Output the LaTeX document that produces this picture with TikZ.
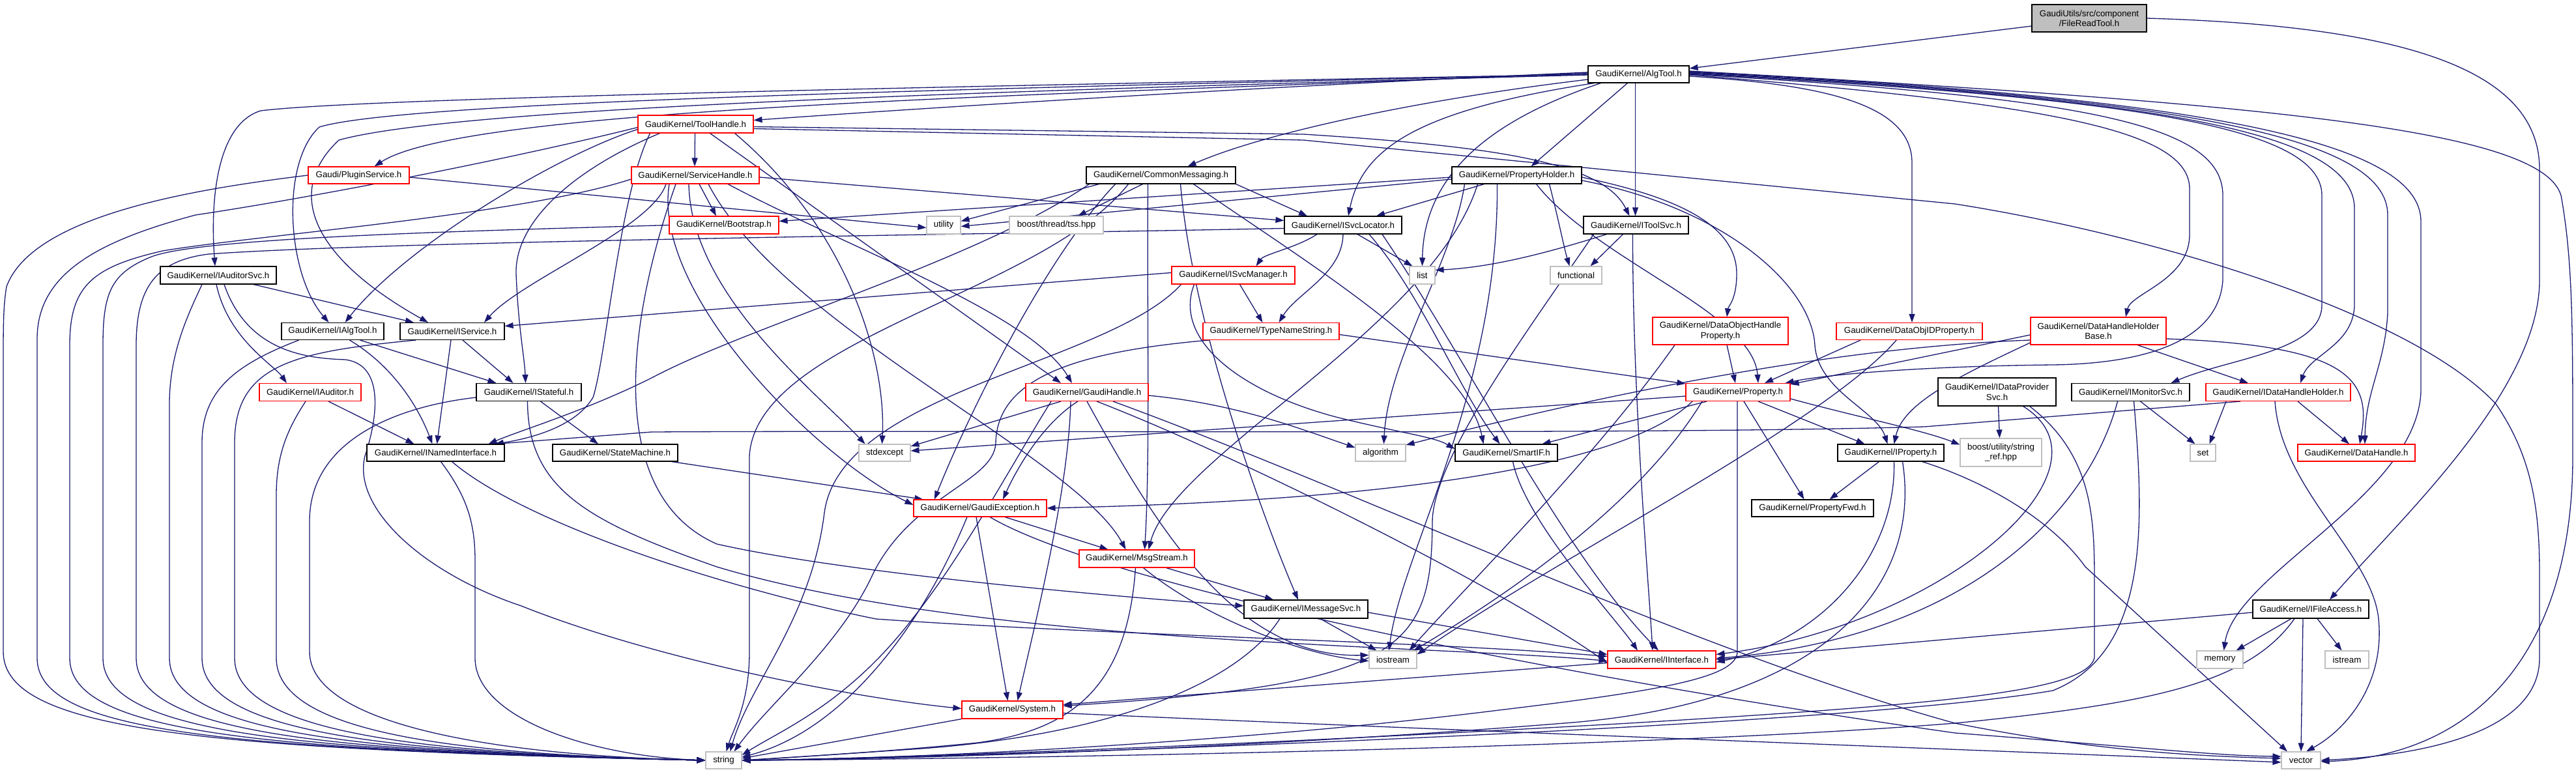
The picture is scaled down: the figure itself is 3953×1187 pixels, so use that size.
\documentclass[tikz,border=0pt]{standalone}
\usepackage{fontspec}
\setmainfont{Liberation Sans}
\usetikzlibrary{arrows.meta}
\definecolor{mblue}{HTML}{191970}
\definecolor{gbord}{HTML}{BFBFBF}
\newcommand\nd[6]{\node[#1,minimum width=#4pt,minimum height=#5pt] (#2) at (#3) {#6};}
\pgfdeclarelayer{bg}
\pgfsetlayers{bg,main}
\begin{document}
\begin{tikzpicture}[x=1pt,y=-1pt,
  nb/.style={draw=black,line width=1.1pt,fill=white,inner sep=0pt,align=center,font=\fontsize{13.3}{15.5}\selectfont},
  nr/.style={nb,draw=red},
  ng/.style={nb,draw=gbord},
  ns/.style={nb,fill=gbord},
  e/.style={draw=mblue,line width=1.3pt,-{Triangle[length=13pt,width=9pt]}}]
\useasboundingbox (0,0) rectangle (3953,1187);
% ---------------- nodes
\nd{ns}{frt}{3206,28}{176}{42}{GaudiUtils/src/component\\/FileReadTool.h}
\nd{nb}{algtool}{2514.5,114}{155}{26}{GaudiKernel/AlgTool.h}
\nd{nr}{toolhandle}{1067.5,190.5}{177}{27}{GaudiKernel/ToolHandle.h}
\nd{nr}{plugin}{550.5,269}{155}{26}{Gaudi/PluginService.h}
\nd{nr}{svchandle}{1067,269}{196}{26}{GaudiKernel/ServiceHandle.h}
\nd{nb}{commsg}{1781.5,269}{229}{26}{GaudiKernel/CommonMessaging.h}
\nd{nb}{propholder}{2327.5,269}{199}{26}{GaudiKernel/PropertyHolder.h}
\nd{nr}{bootstrap}{1111,345.5}{168}{27}{GaudiKernel/Bootstrap.h}
\nd{ng}{utility}{1448,345.5}{52}{27}{utility}
\nd{ng}{tss}{1621,345.5}{144}{27}{boost/thread/tss.hpp}
\nd{nb}{isvcloc}{2061,345.5}{180}{27}{GaudiKernel/ISvcLocator.h}
\nd{nb}{itoolsvc}{2510.5,345.5}{161}{27}{GaudiKernel/IToolSvc.h}
\nd{nb}{iauditorsvc}{335,422.5}{178}{27}{GaudiKernel/IAuditorSvc.h}
\nd{nr}{isvcmgr}{1892.5,422.5}{189}{27}{GaudiKernel/ISvcManager.h}
\nd{ng}{list}{2182.5,422.5}{39}{27}{list}
\nd{ng}{functional}{2418.5,422.5}{79}{27}{functional}
\nd{nb}{ialgtool}{510.5,508.5}{157}{26}{GaudiKernel/IAlgTool.h}
\nd{nb}{iservice}{694,508.5}{160}{26}{GaudiKernel/IService.h}
\nd{nr}{typename}{1950.5,508.5}{209}{26}{GaudiKernel/TypeNameString.h}
\nd{nr}{dohp}{2640,508}{208}{42}{GaudiKernel/DataObjectHandle\\Property.h}
\nd{nr}{doidp}{2930,508.5}{224}{26}{GaudiKernel/DataObjIDProperty.h}
\nd{nr}{dhhb}{3220,508}{208}{42}{GaudiKernel/DataHandleHolder\\Base.h}
\nd{nr}{iauditor}{476,602}{156}{27}{GaudiKernel/IAuditor.h}
\nd{nb}{istateful}{811.5,602}{161}{27}{GaudiKernel/IStateful.h}
\nd{nr}{gaudihandle}{1668,602}{188}{27}{GaudiKernel/GaudiHandle.h}
\nd{nr}{property}{2667,602}{160}{27}{GaudiKernel/Property.h}
\nd{nb}{idps}{3064.5,601.5}{181}{43}{GaudiKernel/IDataProvider\\Svc.h}
\nd{nb}{imonitor}{3269.5,602}{181}{27}{GaudiKernel/IMonitorSvc.h}
\nd{nr}{idhh}{3496,602}{222}{27}{GaudiKernel/IDataHandleHolder.h}
\nd{nb}{inamed}{668.5,695}{211}{26}{GaudiKernel/INamedInterface.h}
\nd{nb}{statemachine}{944,695}{192}{26}{GaudiKernel/StateMachine.h}
\nd{ng}{stdexcept}{1357.5,695}{79}{26}{stdexcept}
\nd{ng}{algorithm}{2118.5,695}{77}{26}{algorithm}
\nd{nb}{smartif}{2311.5,695}{157}{26}{GaudiKernel/SmartIF.h}
\nd{nb}{iproperty}{2901.5,695}{163}{26}{GaudiKernel/IProperty.h}
\nd{ng}{stringref}{3070.5,694.5}{125}{43}{boost/utility/string\\\_ref.hpp}
\nd{ng}{set}{3380.5,695}{39}{26}{set}
\nd{nr}{datahandle}{3616,695}{180}{26}{GaudiKernel/DataHandle.h}
\nd{nr}{gexc}{1504,780}{204}{26}{GaudiKernel/GaudiException.h}
\nd{nb}{propfwd}{2781.5,780}{187}{26}{GaudiKernel/PropertyFwd.h}
\nd{nr}{msgstream}{1744.5,857.5}{177}{27}{GaudiKernel/MsgStream.h}
\nd{nb}{imsgsvc}{2004,935}{190}{28}{GaudiKernel/IMessageSvc.h}
\nd{nb}{ifileaccess}{3546,935}{178}{28}{GaudiKernel/IFileAccess.h}
\nd{ng}{iostream}{2137.5,1012.5}{73}{27}{iostream}
\nd{nr}{iinterface}{2550,1012.5}{166}{27}{GaudiKernel/IInterface.h}
\nd{ng}{memory}{3406.5,1012.5}{71}{27}{memory}
\nd{ng}{istream}{3601.5,1012.5}{67}{27}{istream}
\nd{nr}{system}{1553.5,1089.5}{155}{27}{GaudiKernel/System.h}
\nd{ng}{string}{1110.5,1167}{55}{26}{string}
\nd{ng}{vector}{3531,1167}{60}{26}{vector}
% ---------------- edges
\begin{pgfonlayer}{bg}
\fill[white] (0,0) rectangle (3953,1187);
% FileReadTool
\draw[e] ([yshift=-12pt]frt.west) -- ([yshift=9pt]algtool.east);
\draw[e] (frt.east) .. controls (3700,40) and (3897,110) .. (3897,260) -- (3897,430) .. controls (3897,600) and (3680,800) .. ([xshift=29pt]ifileaccess.north);
% AlgTool
\draw[e] ([yshift=3pt]algtool.west) .. controls (2000,130) and (1500,160) .. ([yshift=6pt]toolhandle.east);
\draw[e] ([yshift=2pt]algtool.west) .. controls (1700,145) and (720,160) .. ([xshift=24pt]plugin.north);
\draw[e] (algtool.west) .. controls (1500,132) and (560,150) .. (400,170) .. controls (335,190) and (322,300) .. ([xshift=-5pt]iauditorsvc.north);
\draw[e] (algtool.west) .. controls (1500,136) and (620,155) .. (490,195) .. controls (430,250) and (440,420) .. ([xshift=-6pt]ialgtool.north);
\draw[e] ([yshift=-1pt]algtool.west) .. controls (1500,140) and (700,165) .. (520,215) .. controls (440,290) and (470,390) .. ([xshift=-37pt]iservice.north);
\draw[e] ([yshift=-8pt]algtool.west) .. controls (2200,150) and (1950,200) .. ([xshift=41pt]commsg.north);
\draw[e] ([xshift=-17pt]algtool.south) -- ([xshift=22pt]propholder.north);
\draw[e] ([xshift=-68pt]algtool.south) .. controls (2170,170) and (2090,230) .. ([xshift=8pt]isvcloc.north);
\draw[e] ([xshift=-5pt]algtool.south) -- ([xshift=-1pt]itoolsvc.north);
\draw[e] ([xshift=-58pt]algtool.south) .. controls (2300,180) and (2185,260) .. (list.north);
\draw[e] ([yshift=-3pt]algtool.east) .. controls (2800,130) and (2934,160) .. (2934,250) -- ([xshift=4pt]doidp.north);
\draw[e] ([yshift=-1pt]algtool.east) .. controls (3150,160) and (3360,200) .. (3360,290) -- (3360,360) .. controls (3360,430) and (3270,450) .. ([xshift=42pt]dhhb.north);
\draw[e] (algtool.east) .. controls (3200,150) and (3411,190) .. (3411,300) -- (3411,430) .. controls (3405,520) and (3300,558) .. (3150,560) .. controls (2950,562) and (2800,575) .. ([xshift=-8pt]property.north east);
\draw[e] ([yshift=1pt]algtool.east) .. controls (3250,150) and (3563,190) .. (3563,300) -- (3563,470) .. controls (3560,540) and (3420,550) .. ([xshift=62pt]imonitor.north);
\draw[e] ([yshift=2pt]algtool.east) .. controls (3300,150) and (3613,200) .. (3613,320) -- (3613,470) .. controls (3610,530) and (3545,545) .. ([xshift=34pt]idhh.north);
\draw[e] ([yshift=3pt]algtool.east) .. controls (3350,150) and (3664,210) .. (3664,330) -- (3664,480) .. controls (3660,560) and (3630,600) .. ([xshift=13pt]datahandle.north);
\draw[e] ([yshift=4pt]algtool.east) .. controls (3400,150) and (3715,220) .. (3715,340) -- (3715,600) .. controls (3710,760) and (3430,880) .. ([xshift=6pt]memory.north);
\draw[e] ([yshift=5pt]algtool.east) .. controls (3500,160) and (3900,200) .. (3930,300) .. controls (3948,400) and (3948,500) .. (3948,700) .. controls (3948,1000) and (3800,1160) .. ([yshift=-2pt]vector.east);
% ToolHandle
\draw[e] ([xshift=-1pt]toolhandle.south) -- ([xshift=-1pt]svchandle.north);
\draw[e] ([yshift=-5pt]toolhandle.west) .. controls (800,240) and (500,300) .. (300,330) .. controls (150,370) and (57,420) .. (57,520) -- (57,1010) .. controls (57,1125) and (350,1150) .. (string.west);
\draw[e] ([yshift=-8pt]toolhandle.west) .. controls (850,240) and (620,380) .. ([xshift=19pt]ialgtool.north);
\draw[e] ([xshift=-55pt]toolhandle.south) .. controls (880,260) and (790,340) .. (792,420) .. controls (795,500) and (805,550) .. ([xshift=-5pt]istateful.north);
\draw[e] ([yshift=-4pt]toolhandle.east) -- (2000,206) .. controls (2300,225) and (2460,250) .. ([xshift=-10pt]itoolsvc.north);
\draw[e] ([yshift=-7pt]toolhandle.east) -- (2000,215) -- (3000,313) .. controls (3300,360) and (3700,480) .. (3830,620) .. controls (3885,700) and (3897,780) .. (3897,880) -- (3897,1010) .. controls (3897,1130) and (3700,1160) .. (vector.east);
\draw[e] ([xshift=22pt]toolhandle.south) -- ([xshift=-40pt]gaudihandle.north);
\draw[e] ([xshift=60pt]toolhandle.south) .. controls (1300,350) and (1360,550) .. ([xshift=-4pt]stdexcept.north);
\draw[e] ([xshift=-70pt]toolhandle.south) .. controls (950,300) and (930,550) .. (910,610) .. controls (880,660) and (800,675) .. ([xshift=-15pt]inamed.north east);
% PluginService
\draw[e] (plugin.west) .. controls (300,290) and (50,330) .. (10,440) .. controls (5,470) and (5,500) .. (5,560) -- (5,1000) .. controls (5,1120) and (300,1150) .. (string.west);
\draw[e] ([yshift=-3pt]plugin.east) -- ([yshift=-4pt]utility.west);
% ServiceHandle
\draw[e] ([xshift=6pt]svchandle.south) -- ([xshift=-12pt]bootstrap.north);
\draw[e] ([yshift=-6pt]svchandle.west) .. controls (800,330) and (400,360) .. (250,385) .. controls (140,410) and (107,440) .. (107,530) -- (107,1010) .. controls (107,1125) and (400,1152) .. (string.west);
\draw[e] ([yshift=-3pt]svchandle.east) -- ([yshift=7pt]isvcloc.west);
\draw[e] ([xshift=50pt]svchandle.south) .. controls (1300,380) and (1580,480) .. ([xshift=-23pt]gaudihandle.north);
\draw[e] ([xshift=-40pt]svchandle.south) .. controls (1000,450) and (1250,700) .. ([yshift=5pt]gexc.west);
\draw[e] ([xshift=20pt]svchandle.south) .. controls (1200,500) and (1650,700) .. ([xshift=-17pt]msgstream.north);
\draw[e] ([xshift=-30pt]svchandle.south) .. controls (960,500) and (930,760) .. (1100,835) .. controls (1300,880) and (1700,915) .. ([yshift=5pt]imsgsvc.west);
\draw[e] ([xshift=-10pt]svchandle.south) .. controls (1060,450) and (1250,600) .. ([xshift=-30pt]stdexcept.north);
\draw[e] ([xshift=-45pt]svchandle.south) .. controls (1000,350) and (800,430) .. ([xshift=49pt]iservice.north);
% Bootstrap
\draw[e] (bootstrap.west) .. controls (700,355) and (300,365) .. (230,395) .. controls (170,420) and (158,450) .. (158,530) -- (158,1010) .. controls (158,1125) and (450,1153) .. (string.west);
% CommonMessaging
\draw[e] ([xshift=-28pt]commsg.south) -- ([xshift=33pt]tss.north);
\draw[e] ([xshift=-95pt]commsg.south) -- ([yshift=6pt]utility.east);
\draw[e] (commsg.south east) -- ([xshift=-55pt]isvcloc.north);
\draw[e] ([xshift=-20pt]commsg.south) .. controls (1760,500) and (1765,700) .. ([xshift=12pt]msgstream.north);
\draw[e] ([xshift=30pt]commsg.south) .. controls (1830,500) and (1940,800) .. ([xshift=-12pt]imsgsvc.north);
\draw[e] ([xshift=-70pt]commsg.south) .. controls (1600,400) and (1480,650) .. ([xshift=-70pt]gexc.north);
\draw[e] ([xshift=50pt]commsg.south) .. controls (2000,400) and (2250,550) .. ([xshift=-35pt]smartif.north);
\draw[e] ([xshift=-110pt]commsg.south) .. controls (1500,400) and (1150,500) .. (1000,580) .. controls (900,630) and (800,660) .. ([xshift=-25pt]inamed.north east);
\draw[e] ([xshift=-50pt]commsg.south) .. controls (1600,450) and (1160,520) .. (1150,700) -- (1150,1000) .. controls (1150,1080) and (1125,1120) .. ([xshift=4pt]string.north);
% PropertyHolder
\draw[e] ([yshift=-3pt]propholder.west) -- ([yshift=6pt]bootstrap.east);
\draw[e] ([yshift=-6pt]propholder.west) -- ([yshift=-2pt]utility.east);
\draw[e] ([xshift=-50pt]propholder.south) -- ([xshift=51pt]isvcloc.north);
\draw[e] ([xshift=50pt]propholder.south) .. controls (2390,330) and (2400,380) .. ([xshift=-10pt]functional.north);
\draw[e] ([xshift=30pt]propholder.south) .. controls (2450,400) and (2690,480) .. ([xshift=31pt]property.north);
\draw[e] ([yshift=-3pt]propholder.east) .. controls (2560,300) and (2665,340) .. (2665,420) .. controls (2665,460) and (2652,470) .. ([xshift=10pt]dohp.north);
\draw[e] ([yshift=-8pt]propholder.east) .. controls (2650,320) and (2780,440) .. (2785,530) .. controls (2790,600) and (2880,630) .. ([xshift=-5pt]iproperty.north);
\draw[e] ([xshift=-80pt]propholder.south) .. controls (2230,400) and (2130,550) .. ([xshift=5pt]algorithm.north);
\draw[e] ([xshift=-60pt]propholder.south) .. controls (2200,500) and (1800,700) .. ([xshift=18pt]msgstream.north);
\draw[e] ([xshift=-30pt]propholder.south) .. controls (2300,600) and (2150,850) .. ([xshift=-6pt]iostream.north);
% ISvcLocator
\draw[e] ([xshift=-40pt]isvcloc.south) .. controls (1990,380) and (1940,390) .. ([xshift=35pt]isvcmgr.north);
\draw[e] (isvcloc.south) .. controls (2060,420) and (1990,450) .. ([xshift=12pt]typename.north);
\draw[e] ([xshift=22pt]isvcloc.south) -- ([xshift=-15pt]list.north);
\draw[e] ([xshift=40pt]isvcloc.south) .. controls (2180,450) and (2240,600) .. ([xshift=-10pt]smartif.north);
\draw[e] ([xshift=60pt]isvcloc.south) .. controls (2250,550) and (2400,850) .. ([xshift=-5pt]iinterface.north);
\draw[e] ([yshift=-5pt]isvcloc.west) .. controls (1500,360) and (600,370) .. (320,390) .. controls (240,400) and (209,440) .. (209,530) -- (209,1010) .. controls (209,1125) and (500,1154) .. (string.west);
% IToolSvc
\draw[e] ([xshift=-45pt]itoolsvc.south) .. controls (2400,380) and (2300,410) .. ([yshift=8pt]list.east);
\draw[e] ([xshift=-20pt]itoolsvc.south) -- ([xshift=22pt]functional.north);
\draw[e] ([xshift=-5pt]itoolsvc.south) .. controls (2505,600) and (2530,900) .. ([xshift=-14pt]iinterface.north);
\draw[e] ([xshift=-65pt]itoolsvc.south) .. controls (2350,500) and (2200,700) .. (2198,800) .. controls (2197,1000) and (2150,1050) .. ([yshift=6pt]system.east);
% IAuditorSvc
\draw[e] ([xshift=54pt]iauditorsvc.south) -- ([xshift=-59pt]iservice.north);
\draw[e] ([xshift=-3pt]iauditorsvc.south) .. controls (350,520) and (420,560) .. ([xshift=-36pt]iauditor.north);
\draw[e] ([xshift=9pt]iauditorsvc.south) .. controls (380,540) and (470,550) .. (530,552) .. controls (590,560) and (580,640) .. (560,700) .. controls (540,780) and (650,880) .. (800,930) .. controls (1000,1010) and (1300,1070) .. ([yshift=2pt]system.west);
\draw[e] ([xshift=-25pt]iauditorsvc.south) .. controls (290,480) and (260,540) .. (260,620) -- (260,1010) .. controls (260,1125) and (550,1155) .. (string.west);
% IAlgTool
\draw[e] ([xshift=26pt]ialgtool.south) .. controls (600,560) and (640,620) .. ([xshift=-5pt]inamed.north);
\draw[e] ([xshift=42pt]ialgtool.south) -- ([xshift=-50pt]istateful.north);
\draw[e] ([xshift=-52pt]ialgtool.south) .. controls (360,560) and (310,600) .. (310,680) -- (310,1010) .. controls (310,1125) and (600,1156) .. (string.west);
% IService
\draw[e] ([xshift=-2pt]iservice.south) -- ([xshift=2pt]inamed.north);
\draw[e] ([xshift=16pt]iservice.south) -- ([xshift=-24pt]istateful.north);
\draw[e] ([xshift=-56pt]iservice.south) .. controls (450,540) and (360,560) .. (360,680) -- (360,1010) .. controls (360,1125) and (650,1157) .. (string.west);
% IAuditor
\draw[e] ([xshift=28pt]iauditor.south) -- ([xshift=-33pt]inamed.north);
\draw[e] ([xshift=-7pt]iauditor.south) .. controls (440,660) and (424,700) .. (424,760) -- (424,1010) .. controls (424,1125) and (700,1158) .. (string.west);
% IStateful
\draw[e] ([xshift=18pt]istateful.south) -- ([xshift=-26pt]statemachine.north);
\draw[e] ([yshift=-8pt]istateful.west) .. controls (600,625) and (475,680) .. (475,800) -- (475,1000) .. controls (475,1110) and (750,1159) .. (string.west);
\draw[e] ([xshift=-2pt]istateful.south) .. controls (810,750) and (900,800) .. (1100,870) .. controls (1500,990) and (2200,990) .. ([yshift=-2pt]iinterface.west);
% ISvcManager
\draw[e] ([yshift=4pt]isvcmgr.west) -- ([yshift=8pt]iservice.east);
\draw[e] ([xshift=10pt]isvcmgr.south) -- ([xshift=-13pt]typename.north);
\draw[e] ([xshift=-60pt]isvcmgr.south) .. controls (1800,520) and (1900,600) .. (2050,640) .. controls (2150,665) and (2200,670) .. ([yshift=6pt]smartif.west);
\draw[e] ([xshift=-80pt]isvcmgr.south) .. controls (1700,560) and (1290,600) .. (1265,787) .. controls (1245,950) and (1150,1050) .. ([xshift=10pt]string.north);
% TypeNameString
\draw[e] ([yshift=-5pt]typename.east) -- ([yshift=13pt]property.west);
\draw[e] ([xshift=-95pt]typename.south) .. controls (1650,540) and (1530,580) .. (1528,680) .. controls (1525,740) and (1400,760) .. (1340,880) .. controls (1290,990) and (1180,1080) .. ([xshift=16pt]string.north);
% DataObjectHandleProperty
\draw[e] ([xshift=10pt]dohp.south) -- ([xshift=-4pt]property.north);
\draw[e] ([xshift=-70pt]dohp.south) .. controls (2450,700) and (2250,900) .. ([xshift=25pt]iostream.north);
% DataObjIDProperty
\draw[e] ([xshift=-75pt]doidp.south) -- ([xshift=41pt]property.north);
\draw[e] ([xshift=-20pt]doidp.south) .. controls (2800,650) and (2400,850) .. ([yshift=8pt]iostream.east);
% DataHandleHolderBase
\draw[e] ([xshift=60pt]dhhb.south) -- ([xshift=-46pt]idhh.north);
\draw[e] ([yshift=-6pt]dhhb.west) -- ([yshift=12pt]property.east);
\draw[e] ([yshift=-14pt]dhhb.west) .. controls (2900,530) and (2600,570) .. ([yshift=12pt]algorithm.east);
\draw[e] ([yshift=-12pt]dhhb.east) .. controls (3600,530) and (3640,580) .. ([xshift=5pt]datahandle.north);
\draw[e] ([yshift=-18pt]dhhb.west) .. controls (3000,580) and (2920,620) .. ([xshift=5pt]iproperty.north);
% IDataProviderSvc
\draw[e] ([xshift=2pt]idps.south) -- ([xshift=-2pt]stringref.north);
\draw[e] ([xshift=40pt]idps.south) .. controls (3260,720) and (2980,960) .. ([yshift=8pt]iinterface.east);
\draw[e] ([xshift=50pt]idps.south) .. controls (3214,700) and (3214,800) .. (3214,900) -- (3214,1010) .. controls (3200,1060) and (3000,1080) .. (2500,1110) .. controls (1800,1150) and (1300,1165) .. (string.east);
% IMonitorSvc
\draw[e] ([xshift=15pt]imonitor.south) -- ([xshift=-12pt]set.north);
\draw[e] ([xshift=-20pt]imonitor.south) .. controls (3200,800) and (3000,980) .. ([yshift=2pt]iinterface.east);
\draw[e] ([xshift=5pt]imonitor.south) .. controls (3290,800) and (3300,1000) .. (3150,1060) .. controls (2800,1120) and (1400,1165) .. (string.east);
% IDataHandleHolder
\draw[e] ([xshift=-80pt]idhh.south) -- ([xshift=10pt]set.north);
\draw[e] ([xshift=30pt]idhh.south) -- ([xshift=-11pt]datahandle.north);
\draw[e] ([xshift=-5pt]idhh.south) .. controls (3500,750) and (3640,850) .. (3650,950) .. controls (3660,1050) and (3600,1120) .. ([xshift=8pt]vector.north);
\draw[e] ([xshift=-58pt]idhh.south) -- (2953,655) .. controls (2500,668) and (1500,660) .. (1000,663) -- ([xshift=-15pt]inamed.north east);
% Property
\draw[e] ([xshift=31pt]property.south) -- ([xshift=-40pt]iproperty.north);
\draw[e] ([xshift=9pt]property.south) -- ([xshift=-13pt]propfwd.north);
\draw[e] ([xshift=-48pt]property.south) -- ([xshift=55pt]smartif.north);
\draw[e] ([yshift=-6pt]property.west) -- ([yshift=3pt]stdexcept.east);
\draw[e] ([xshift=-70pt]property.south) .. controls (2450,760) and (1800,775) .. (gexc.east);
\draw[e] ([yshift=-10pt]property.east) .. controls (2850,640) and (2950,660) .. ([yshift=12pt]stringref.west);
\draw[e] ([xshift=-1pt]property.south) -- (2666,1000) .. controls (2666,1040) and (2550,1060) .. (2300,1090) .. controls (1900,1140) and (1400,1165) .. (string.east);
\draw[e] ([xshift=-55pt]property.south) .. controls (2500,800) and (2250,950) .. ([xshift=32pt]iostream.north);
% IProperty
\draw[e] ([xshift=-18pt]iproperty.south) -- ([xshift=26pt]propfwd.north);
\draw[e] ([xshift=5pt]iproperty.south) .. controls (2910,850) and (2800,980) .. ([yshift=-4pt]iinterface.east);
\draw[e] ([xshift=18pt]iproperty.south) .. controls (2950,900) and (2800,1080) .. (2400,1110) .. controls (1900,1150) and (1400,1165) .. (string.east);
\draw[e] ([xshift=48pt]iproperty.south) .. controls (3050,740) and (3150,800) .. (3200,870) -- ([xshift=-21pt]vector.north);
% INamedInterface
\draw[e] ([xshift=25pt]inamed.south) .. controls (800,800) and (1100,900) .. (1344,950) .. controls (1700,975) and (2200,985) .. ([yshift=5pt]iinterface.west);
\draw[e] ([xshift=8pt]inamed.south) .. controls (715,760) and (729,800) .. (729,860) -- (729,1010) .. controls (729,1100) and (900,1160) .. (string.west);
% StateMachine, SmartIF
\draw[e] ([xshift=-10pt]statemachine.south east) -- ([xshift=15pt]gexc.north west);
\draw[e] ([xshift=10pt]smartif.south) .. controls (2340,800) and (2480,950) .. ([xshift=-37pt]iinterface.north);
% GaudiHandle
\draw[e] ([xshift=-40pt]gaudihandle.south) -- ([yshift=10pt]stdexcept.east);
\draw[e] ([xshift=-14pt]gaudihandle.south) .. controls (1600,650) and (1560,720) .. ([xshift=35pt]gexc.north);
\draw[e] ([xshift=-25pt]gaudihandle.south) .. controls (1640,750) and (1590,950) .. ([xshift=8pt]system.north);
\draw[e] ([yshift=-5pt]gaudihandle.east) .. controls (1900,620) and (2000,660) .. ([yshift=8pt]algorithm.west);
\draw[e] ([xshift=15pt]gaudihandle.south) .. controls (1900,700) and (2300,900) .. ([yshift=-5pt]iinterface.west);
\draw[e] (gaudihandle.south) .. controls (1780,820) and (1900,1010) .. ([yshift=7pt]iostream.west);
\draw[e] ([xshift=40pt]gaudihandle.south) .. controls (2100,760) and (2600,1000) .. (3000,1110) .. controls (3200,1150) and (3350,1160) .. ([yshift=3pt]vector.west);
\draw[e] ([xshift=-55pt]gaudihandle.south) .. controls (1560,700) and (1480,850) .. (1400,950) .. controls (1300,1080) and (1200,1120) .. ([yshift=8pt]string.east);
% GaudiException
\draw[e] ([xshift=38pt]gexc.south) -- ([xshift=-44pt]msgstream.north);
\draw[e] ([xshift=-6pt]gexc.south) -- ([xshift=-7pt]system.north);
\draw[e] ([xshift=-20pt]gexc.south) .. controls (1420,950) and (1300,1120) .. ([yshift=5pt]string.east);
\draw[e] ([xshift=15pt]gexc.south) .. controls (1700,900) and (2400,1040) .. (3000,1125) .. controls (3300,1148) and (3400,1160) .. ([yshift=6pt]vector.west);
% MsgStream
\draw[e] ([xshift=45pt]msgstream.south) -- ([xshift=-50pt]imsgsvc.north);
\draw[e] ([xshift=10pt]msgstream.south) .. controls (1850,950) and (2000,1005) .. ([yshift=-2pt]iostream.west);
\draw[e] ([xshift=-2pt]msgstream.south) .. controls (1730,1050) and (1650,1120) .. (1500,1140) .. controls (1350,1155) and (1200,1163) .. (string.east);
% IMessageSvc
\draw[e] ([yshift=-5pt]imsgsvc.east) -- ([yshift=8pt]iinterface.west);
\draw[e] ([xshift=22pt]imsgsvc.south) -- ([xshift=-25pt]iostream.north);
\draw[e] ([xshift=-40pt]imsgsvc.south) .. controls (1900,1050) and (1700,1130) .. (1400,1150) .. controls (1250,1160) and (1180,1165) .. (string.east);
% IFileAccess
\draw[e] ([yshift=-5pt]ifileaccess.west) -- (iinterface.east);
\draw[e] ([xshift=-30pt]ifileaccess.south) -- ([xshift=25pt]memory.north);
\draw[e] ([xshift=10pt]ifileaccess.south) -- ([xshift=-8pt]istream.north);
\draw[e] ([xshift=-12pt]ifileaccess.south) -- (vector.north);
\draw[e] ([xshift=-25pt]ifileaccess.south) .. controls (3450,1050) and (3300,1080) .. (3000,1110) .. controls (2500,1150) and (1500,1165) .. (string.east);
% IInterface, System
\draw[e] ([yshift=-5pt]iinterface.west) -- ([yshift=8pt]system.east);
\draw[e] (system.south west) -- ([yshift=3pt]string.east);
\draw[e] ([yshift=-5pt]system.east) .. controls (2200,1120) and (3000,1150) .. ([yshift=-3pt]vector.west);
\end{pgfonlayer}
\end{tikzpicture}
\end{document}
